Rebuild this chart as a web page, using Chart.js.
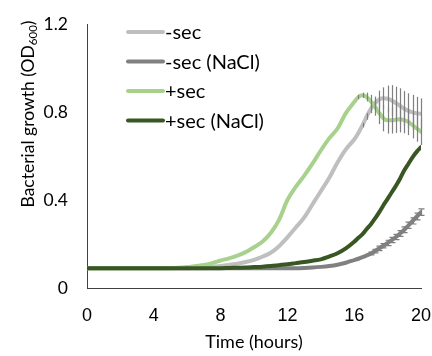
<!DOCTYPE html>
<html>
<head>
<meta charset="utf-8">
<script src="https://cdn.jsdelivr.net/npm/chart.js@4.4.1/dist/chart.umd.min.js"></script>
<style>
  html, body { margin: 0; padding: 0; background: #fff; }
  #wrap { width: 432px; height: 356px; }
</style>
</head>
<body>
<div id="wrap"><canvas id="growthChart" width="432" height="356"></canvas></div>
<script>
// time points (hours) and OD600
const hours = [0, 1, 2, 3, 4, 5, 6, 6.5, 7, 7.5, 8, 8.5, 9, 9.5, 10, 10.5, 11, 11.5, 12, 12.5,
  13, 13.5, 14, 14.5, 15, 15.5, 16, 16.25, 16.5, 16.75, 17, 17.25, 17.5, 17.75, 18, 18.25,
  18.5, 18.75, 19, 19.25, 19.5, 19.75, 20];

const minusSec = [0.09, 0.09, 0.09, 0.09, 0.09, 0.09, 0.09, 0.092, 0.094, 0.097, 0.10, 0.105, 0.11, 0.118, 0.128, 0.142, 0.16, 0.19, 0.23, 0.275,
  0.32, 0.38, 0.44, 0.50, 0.57, 0.63, 0.675, 0.705, 0.74, 0.78, 0.815, 0.84, 0.857, 0.862, 0.86, 0.852,
  0.84, 0.828, 0.815, 0.805, 0.798, 0.794, 0.792];
const minusSecNaCl = [0.09, 0.09, 0.09, 0.09, 0.09, 0.09, 0.09, 0.09, 0.09, 0.09, 0.09, 0.09, 0.09, 0.09, 0.09, 0.09, 0.09, 0.09, 0.09, 0.09,
  0.091, 0.093, 0.096, 0.10, 0.106, 0.115, 0.127, 0.133, 0.14, 0.148, 0.157, 0.168, 0.18, 0.192, 0.205, 0.218,
  0.232, 0.248, 0.265, 0.285, 0.305, 0.325, 0.345];
const plusSec = [0.09, 0.09, 0.09, 0.09, 0.09, 0.09, 0.095, 0.10, 0.105, 0.113, 0.125, 0.135, 0.147, 0.163, 0.185, 0.21, 0.25, 0.31, 0.40, 0.46,
  0.51, 0.565, 0.625, 0.68, 0.725, 0.795, 0.845, 0.868, 0.876, 0.868, 0.848, 0.823, 0.795, 0.772, 0.762, 0.762,
  0.765, 0.767, 0.763, 0.755, 0.74, 0.725, 0.71];
const plusSecNaCl = [0.09, 0.09, 0.09, 0.09, 0.09, 0.09, 0.09, 0.09, 0.09, 0.09, 0.09, 0.091, 0.092, 0.093, 0.095, 0.097, 0.10, 0.104, 0.108, 0.113,
  0.118, 0.124, 0.13, 0.143, 0.158, 0.18, 0.21, 0.228, 0.245, 0.268, 0.29, 0.316, 0.345, 0.376, 0.405, 0.435,
  0.465, 0.498, 0.535, 0.565, 0.595, 0.62, 0.64];

// error bars (+/-), only the late time points have visible ones
const errMinusSec = [0, 0, 0, 0, 0, 0, 0, 0, 0, 0, 0, 0, 0, 0, 0, 0, 0, 0, 0, 0,
  0, 0, 0, 0, 0, 0, 0, 0, 0.01, 0.015, 0.02, 0.03, 0.04, 0.05, 0.06, 0.07,
  0.075, 0.08, 0.08, 0.08, 0.08, 0.075, 0.07];
const errPlusSec = [0, 0, 0, 0, 0, 0, 0, 0, 0, 0, 0, 0, 0, 0, 0, 0, 0, 0, 0, 0,
  0, 0, 0, 0, 0, 0, 0, 0.01, 0.012, 0.02, 0.03, 0.04, 0.05, 0.06, 0.06, 0.06,
  0.06, 0.06, 0.06, 0.06, 0.06, 0.06, 0.06];
const errMinusSecNaCl = [0, 0, 0, 0, 0, 0, 0, 0, 0, 0, 0, 0, 0, 0, 0, 0, 0, 0, 0, 0,
  0, 0, 0, 0, 0, 0, 0, 0, 0, 0, 0.006, 0.008, 0.01, 0.01, 0.012, 0.012,
  0.012, 0.013, 0.013, 0.014, 0.014, 0.015, 0.015];

const seriesLabels = ['-sec', '-sec (NaCl)', '+sec', '+sec (NaCl)'];
const seriesColors = ['#bfbfbf', '#808080', '#a9d18e', '#385723'];
const xTicks = [0, 4, 8, 12, 16, 20];
const yTicks = [0, 0.4, 0.8, 1.2];
const xTitle = 'Time (hours)';
const yTitle = ['Bacterial growth (OD', '600', ')'];

const pts = vals => vals.map((v, i) => ({ x: hours[i], y: v }));

// custom legend, vertical, top-left inside the plot
const legendPlugin = {
    id: 'sideLegend',
    afterDraw(chart) {
        const ctx = chart.ctx;
        ctx.save();
        ctx.font = '20px Lato';
        ctx.textBaseline = 'middle';
        ctx.fillStyle = '#000';
        seriesLabels.forEach((lab, i) => {
            const y = 32 + i * 29.5;
            ctx.strokeStyle = seriesColors[i];
            ctx.lineWidth = 4;
            ctx.lineCap = 'round';
            ctx.beginPath();
            ctx.moveTo(128, y);
            ctx.lineTo(163, y);
            ctx.stroke();
            ctx.fillText(lab, 165, y + 1);
        });
        ctx.restore();
    }
};

// rotated y title with subscript
const yTitlePlugin = {
    id: 'yTitleSub',
    afterDraw(chart) {
        const ctx = chart.ctx;
        const big = '17.5px Lato', small = '11.5px Lato';
        ctx.save();
        ctx.font = big;
        const w1 = ctx.measureText(yTitle[0]).width;
        const w3 = ctx.measureText(yTitle[2]).width;
        ctx.font = small;
        const w2 = ctx.measureText(yTitle[1]).width;
        const total = w1 + w2 + w3;
        ctx.translate(34, 114);
        ctx.rotate(-Math.PI / 2);
        ctx.fillStyle = '#000';
        ctx.textBaseline = 'alphabetic';
        let x = -total / 2;
        ctx.font = big;
        ctx.fillText(yTitle[0], x, 0);
        x += w1;
        ctx.font = small;
        ctx.fillText(yTitle[1], x, 3);
        x += w2;
        ctx.font = big;
        ctx.fillText(yTitle[2], x, 0);
        ctx.restore();
    }
};

// vertical error bars through the chart scales
const errorBarPlugin = {
    id: 'errorBars',
    afterDatasetsDraw(chart) {
        const ctx = chart.ctx;
        const xs = chart.scales.x, ys = chart.scales.y;
        ctx.save();
        chart.data.datasets.forEach(ds => {
            if (!ds.errors) return;
            ctx.strokeStyle = '#7f7f7f';
            ctx.lineWidth = 1.2;
            ds.data.forEach((p, i) => {
                const e = ds.errors[i];
                if (!e) return;
                const px = Math.round(xs.getPixelForValue(p.x)) + 0.5;
                const top = ys.getPixelForValue(p.y + e);
                const bot = ys.getPixelForValue(p.y - e);
                ctx.beginPath();
                ctx.moveTo(px, top);
                ctx.lineTo(px, bot);
                if (ds.errCaps) {
                    ctx.moveTo(px - 3, top);
                    ctx.lineTo(px + 3, top);
                    ctx.moveTo(px - 3, bot);
                    ctx.lineTo(px + 3, bot);
                }
                ctx.stroke();
            });
        });
        ctx.restore();
    }
};

const lineStyle = (i) => ({
    label: seriesLabels[i],
    borderColor: seriesColors[i],
    backgroundColor: seriesColors[i],
    borderWidth: 4,
    borderCapStyle: 'round',
    pointRadius: 0,
    cubicInterpolationMode: 'monotone',
    fill: false
});

const ctx = document.getElementById('growthChart').getContext('2d');
new Chart(ctx, {
    type: 'line',
    data: {
        datasets: [
            { ...lineStyle(3), data: pts(plusSecNaCl), order: 1 },
            { ...lineStyle(2), data: pts(plusSec), order: 2, errors: errPlusSec },
            { ...lineStyle(0), data: pts(minusSec), order: 3, errors: errMinusSec },
            { ...lineStyle(1), data: pts(minusSecNaCl), order: 4, errors: errMinusSecNaCl, errCaps: true }
        ]
    },
    options: {
        responsive: false,
        animation: false,
        layout: { padding: { top: 24, right: 11, left: 0, bottom: 0 } },
        plugins: {
            legend: { display: false },
            tooltip: { enabled: false }
        },
        scales: {
            x: {
                type: 'linear',
                min: 0,
                max: 20,
                afterBuildTicks: s => { s.ticks = xTicks.map(v => ({ value: v })); },
                ticks: { padding: 17, color: '#000', font: { family: 'Liberation Sans', size: 18 } },
                grid: { display: false, drawTicks: false },
                border: { color: '#404040', width: 1 },
                title: {
                    display: true,
                    text: xTitle,
                    color: '#000',
                    font: { family: 'Lato', size: 18 },
                    padding: { top: 0, bottom: 3 }
                },
                afterFit: s => { s.height = 68; s.paddingLeft = 0; s.paddingRight = 0; }
            },
            y: {
                min: 0,
                max: 1.2,
                afterBuildTicks: s => { s.ticks = yTicks.map(v => ({ value: v })); },
                ticks: { padding: 19, color: '#000', font: { family: 'Lato', size: 17.5 } },
                grid: { display: false, drawTicks: false },
                border: { color: '#404040', width: 1 },
                afterFit: s => { s.width = 87; s.paddingTop = 0; s.paddingBottom = 0; }
            }
        }
    },
    plugins: [errorBarPlugin, legendPlugin, yTitlePlugin]
});
</script>
</body>
</html>
